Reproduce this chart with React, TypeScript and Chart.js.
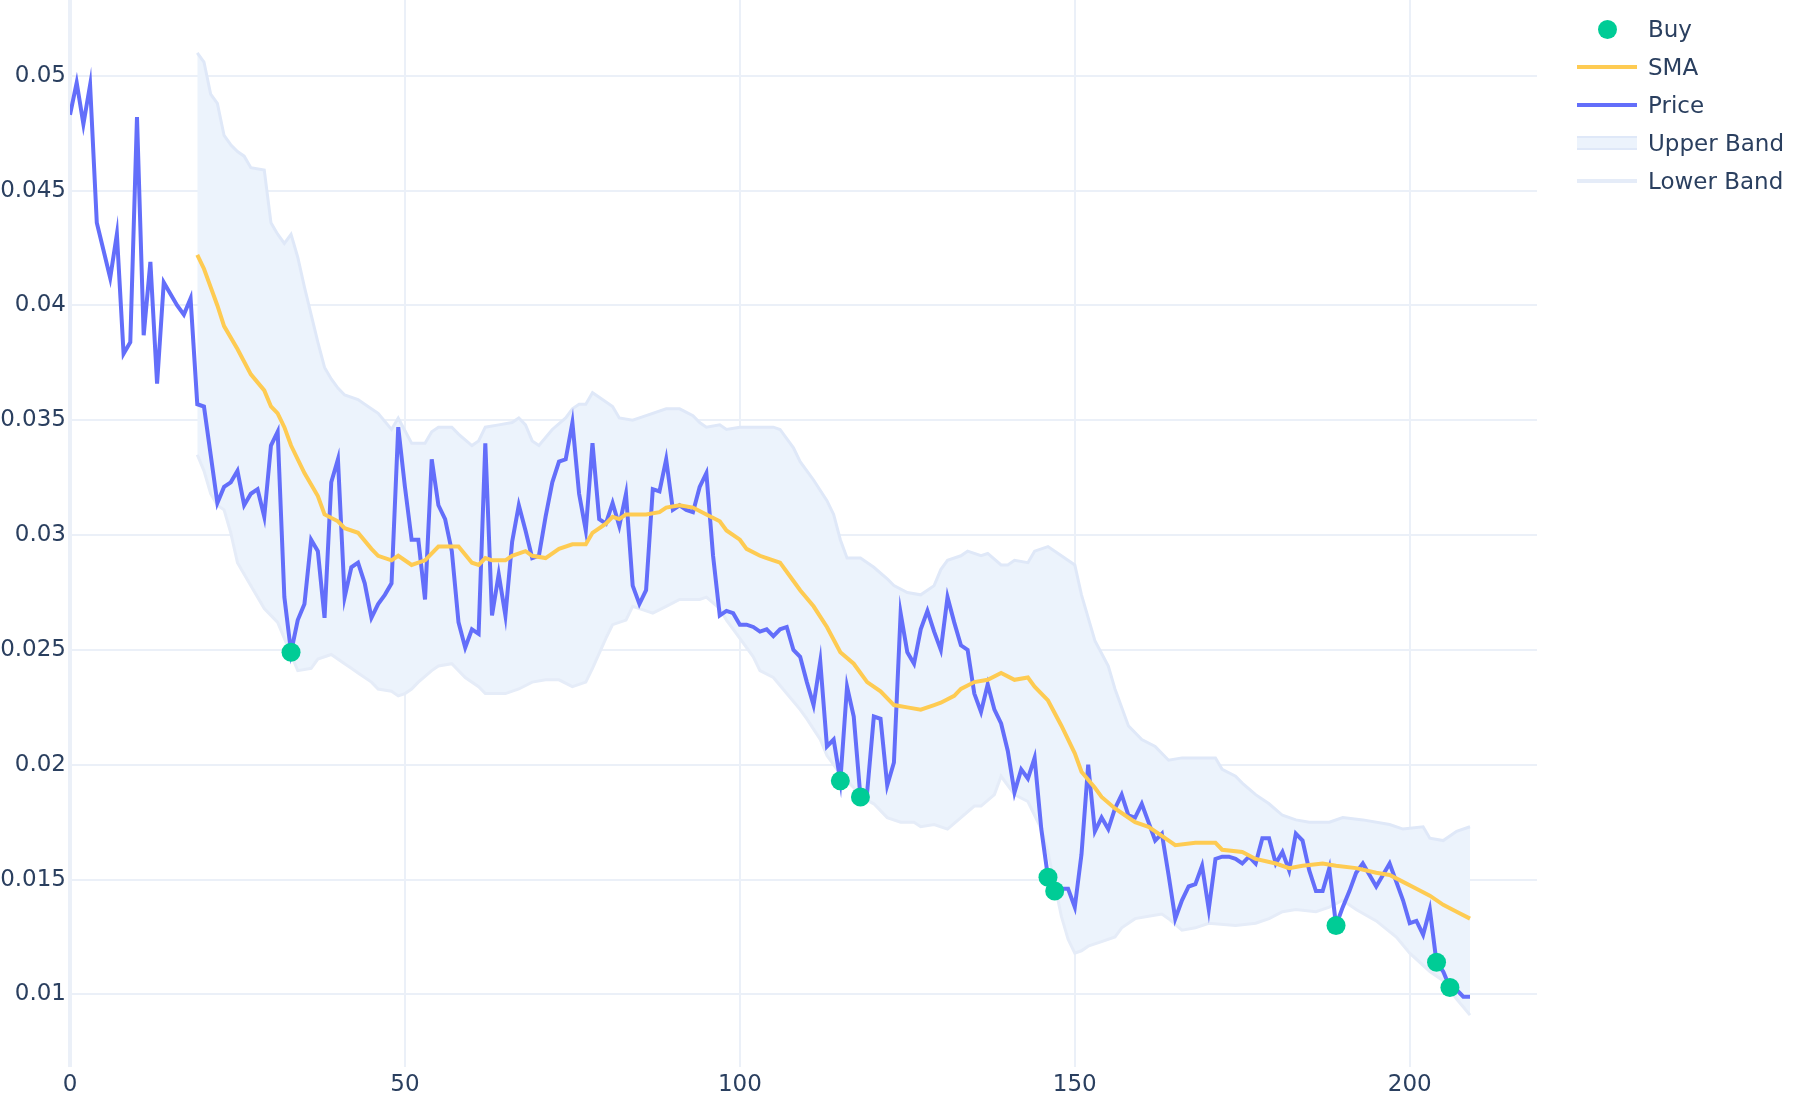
import React, { useEffect, useRef } from "react";
import { Chart, registerables } from "chart.js";

Chart.register(...registerables);

// Price, one value per index 0..209
const price = [
  0.0483, 0.0497, 0.0479, 0.0496, 0.0436, 0.0424, 0.0412, 0.0431, 0.0379, 0.0384,
  0.0482, 0.0387, 0.0419, 0.0366, 0.0410, 0.0405, 0.0400, 0.0396, 0.0403, 0.0357,
  0.0356, 0.0335, 0.0314, 0.0321, 0.0323, 0.0328, 0.0313, 0.0318, 0.0320, 0.0308,
  0.0339, 0.0345, 0.0273, 0.0249, 0.0263, 0.0270, 0.0298, 0.0293, 0.0264, 0.0323,
  0.0333, 0.0273, 0.0286, 0.0288, 0.0279, 0.0264, 0.0270, 0.0274, 0.0279, 0.0347,
  0.0321, 0.0298, 0.0298, 0.0272, 0.0333, 0.0313, 0.0307, 0.0293, 0.0262, 0.0251,
  0.0259, 0.0257, 0.0340, 0.0265, 0.0283, 0.0265, 0.0297, 0.0313, 0.0302, 0.0290,
  0.0291, 0.0308, 0.0323, 0.0332, 0.0333, 0.0349, 0.0318, 0.0302, 0.0340, 0.0307,
  0.0305, 0.0314, 0.0304, 0.0318, 0.0278, 0.0270, 0.0276, 0.0320, 0.0319, 0.0333,
  0.0311, 0.0313, 0.0311, 0.0310, 0.0321, 0.0327, 0.0291, 0.0265, 0.0267, 0.0266,
  0.0261, 0.0261, 0.0260, 0.0258, 0.0259, 0.0256, 0.0259, 0.0260, 0.0250, 0.0247,
  0.0236, 0.0226, 0.0245, 0.0208, 0.0211, 0.0193, 0.0234, 0.0221, 0.0186, 0.0188,
  0.0221, 0.0220, 0.0191, 0.0201, 0.0266, 0.0249, 0.0244, 0.0259, 0.0267, 0.0258,
  0.0250, 0.0273, 0.0262, 0.0252, 0.0250, 0.0231, 0.0223, 0.0235, 0.0224, 0.0218,
  0.0206, 0.0188, 0.0198, 0.0194, 0.0203, 0.0172, 0.0151, 0.0145, 0.0146, 0.0146,
  0.0138, 0.0161, 0.0200, 0.0171, 0.0177, 0.0172, 0.0181, 0.0187, 0.0178, 0.0177,
  0.0183, 0.0175, 0.0167, 0.0170, 0.0152, 0.0133, 0.0141, 0.0147, 0.0148, 0.0156,
  0.0137, 0.0159, 0.0160, 0.0160, 0.0159, 0.0157, 0.0160, 0.0157, 0.0168, 0.0168,
  0.0157, 0.0162, 0.0154, 0.0170, 0.0167, 0.0154, 0.0145, 0.0145, 0.0155, 0.0130,
  0.0138, 0.0145, 0.0153, 0.0157, 0.0152, 0.0147, 0.0152, 0.0157, 0.0149, 0.0141,
  0.0131, 0.0132, 0.0126, 0.0137, 0.0114, 0.0110, 0.0103, 0.0102, 0.0099, 0.0099,
];

// SMA vertices
const smaX = [
  19, 20, 21, 22, 23, 25, 27, 29, 30, 31, 32, 33, 35, 37, 38, 40, 41, 43, 45, 46,
  48, 49, 51, 53, 55, 58, 60, 61, 62, 63, 65, 66, 68, 69, 71, 73, 75, 77, 78, 80,
  81, 82, 83, 85, 86, 88, 89, 91, 93, 95, 97, 98, 100, 101, 103, 104, 106, 108, 109, 111,
  113, 115, 117, 119, 121, 123, 125, 127, 129, 130, 132, 133, 135, 137, 139, 141, 143, 144, 146, 148,
  150, 151, 153, 154, 156, 157, 159, 161, 163, 165, 168, 171, 172, 175, 177, 180, 182, 184, 187, 189,
  192, 195, 197, 199, 201, 203, 205, 207, 209,
];
const smaY = [
  0.0422, 0.0416, 0.0408, 0.0400, 0.0391, 0.0381, 0.0370, 0.0363, 0.0356, 0.0353,
  0.0347, 0.0339, 0.0327, 0.0317, 0.0309, 0.0306, 0.0303, 0.0301, 0.0294, 0.0291,
  0.0289, 0.0291, 0.0287, 0.0289, 0.0295, 0.0295, 0.0288, 0.0287, 0.0290, 0.0289,
  0.0289, 0.0291, 0.0293, 0.0291, 0.0290, 0.0294, 0.0296, 0.0296, 0.0301, 0.0305,
  0.0308, 0.0307, 0.0309, 0.0309, 0.0309, 0.0310, 0.0312, 0.0313, 0.0312, 0.0309,
  0.0306, 0.0302, 0.0298, 0.0294, 0.0291, 0.0290, 0.0288, 0.0280, 0.0276, 0.0269,
  0.0260, 0.0249, 0.0244, 0.0236, 0.0232, 0.0226, 0.0225, 0.0224, 0.0226, 0.0227,
  0.0230, 0.0233, 0.0236, 0.0237, 0.0240, 0.0237, 0.0238, 0.0234, 0.0228, 0.0217,
  0.0205, 0.0197, 0.0190, 0.0186, 0.0181, 0.0179, 0.0175, 0.0173, 0.0169, 0.0165,
  0.0166, 0.0166, 0.0163, 0.0162, 0.0159, 0.0157, 0.0155, 0.0156, 0.0157, 0.0156,
  0.0155, 0.0153, 0.0152, 0.0149, 0.0146, 0.0143, 0.0139, 0.0136, 0.0133,
];

// Upper band vertices
const upperX = [
  19, 20, 21, 22, 23, 24, 25, 26, 27, 29, 30, 31, 32, 33, 34, 35, 36, 37, 38, 39,
  40, 41, 43, 44, 46, 48, 49, 51, 53, 54, 55, 57, 58, 60, 61, 62, 64, 66, 67, 68,
  69, 70, 72, 74, 75, 76, 77, 78, 79, 81, 82, 84, 86, 89, 91, 93, 94, 95, 97, 98,
  100, 102, 105, 106, 108, 109, 111, 113, 114, 115, 116, 118, 120, 122, 123, 125, 127, 129, 130, 131,
  133, 134, 136, 137, 139, 140, 141, 143, 144, 146, 148, 150, 151, 153, 155, 156, 158, 160, 162, 164,
  166, 171, 172, 174, 175, 177, 179, 181, 183, 185, 188, 190, 193, 197, 199, 202, 203, 205, 207, 209,
];
const upperY = [
  0.0510, 0.0506, 0.0492, 0.0488, 0.0474, 0.0470, 0.0467, 0.0465, 0.0460, 0.0459,
  0.0436, 0.0431, 0.0427, 0.0431, 0.0421, 0.0408, 0.0396, 0.0384, 0.0373, 0.0368,
  0.0364, 0.0361, 0.0359, 0.0357, 0.0353, 0.0346, 0.0351, 0.0340, 0.0340, 0.0345,
  0.0347, 0.0347, 0.0344, 0.0339, 0.0341, 0.0347, 0.0348, 0.0349, 0.0351, 0.0348,
  0.0341, 0.0339, 0.0346, 0.0351, 0.0355, 0.0357, 0.0357, 0.0362, 0.0360, 0.0356,
  0.0351, 0.0350, 0.0352, 0.0355, 0.0355, 0.0352, 0.0349, 0.0347, 0.0348, 0.0346,
  0.0347, 0.0347, 0.0347, 0.0346, 0.0338, 0.0332, 0.0324, 0.0315, 0.0309, 0.0298,
  0.0290, 0.0290, 0.0286, 0.0281, 0.0278, 0.0275, 0.0274, 0.0278, 0.0285, 0.0289,
  0.0291, 0.0293, 0.0291, 0.0292, 0.0287, 0.0287, 0.0289, 0.0288, 0.0293, 0.0295,
  0.0291, 0.0287, 0.0274, 0.0254, 0.0243, 0.0233, 0.0217, 0.0211, 0.0208, 0.0202,
  0.0203, 0.0203, 0.0198, 0.0195, 0.0192, 0.0187, 0.0183, 0.0178, 0.0176, 0.0175,
  0.0175, 0.0177, 0.0176, 0.0174, 0.0172, 0.0173, 0.0168, 0.0167, 0.0171, 0.0173,
];

// Lower band vertices
const lowerX = [
  19, 20, 21, 22, 23, 24, 25, 27, 29, 31, 32, 33, 34, 36, 37, 39, 41, 42, 43, 45,
  46, 48, 49, 50, 51, 52, 54, 55, 57, 59, 61, 62, 65, 67, 69, 71, 73, 75, 77, 78,
  80, 81, 83, 84, 86, 87, 89, 91, 94, 95, 97, 98, 100, 102, 103, 105, 107, 109, 110, 112,
  113, 115, 117, 118, 120, 122, 124, 126, 127, 129, 131, 133, 135, 136, 138, 139, 141, 143, 145, 146,
  147, 148, 149, 150, 151, 152, 154, 156, 157, 159, 161, 163, 164, 166, 168, 170, 174, 177, 179, 181,
  183, 186, 188, 190, 192, 195, 198, 200, 203, 205, 207, 209,
];
const lowerY = [
  0.0335, 0.0328, 0.0318, 0.0313, 0.0311, 0.0301, 0.0288, 0.0278, 0.0268, 0.0262,
  0.0255, 0.0248, 0.0241, 0.0242, 0.0246, 0.0248, 0.0244, 0.0242, 0.0240, 0.0236,
  0.0233, 0.0232, 0.0230, 0.0231, 0.0233, 0.0236, 0.0241, 0.0243, 0.0244, 0.0238,
  0.0234, 0.0231, 0.0231, 0.0233, 0.0236, 0.0237, 0.0237, 0.0234, 0.0236, 0.0242,
  0.0255, 0.0261, 0.0263, 0.0269, 0.0267, 0.0266, 0.0269, 0.0272, 0.0272, 0.0273,
  0.0268, 0.0263, 0.0255, 0.0247, 0.0241, 0.0238, 0.0231, 0.0224, 0.0220, 0.0211,
  0.0204, 0.0196, 0.0190, 0.0186, 0.0183, 0.0177, 0.0175, 0.0175, 0.0173, 0.0174,
  0.0172, 0.0177, 0.0182, 0.0182, 0.0187, 0.0195, 0.0187, 0.0184, 0.0172, 0.0162,
  0.0148, 0.0134, 0.0124, 0.0118, 0.0119, 0.0121, 0.0123, 0.0125, 0.0129, 0.0133,
  0.0134, 0.0135, 0.0133, 0.0128, 0.0129, 0.0131, 0.0130, 0.0131, 0.0133, 0.0136,
  0.0137, 0.0136, 0.0138, 0.0141, 0.0137, 0.0132, 0.0125, 0.0118, 0.0110, 0.0106,
  0.0098, 0.0091,
];

// Buy signals
const buyX = [33, 115, 118, 146, 147, 189, 204, 206];
const buyY = [0.0249, 0.0193, 0.0186, 0.0151, 0.0145, 0.0130, 0.0114, 0.0103];

const xTicks = [0, 50, 100, 150, 200];
const yTicks = [0.01, 0.015, 0.02, 0.025, 0.03, 0.035, 0.04, 0.045, 0.05];

const legendItems = ["Buy", "SMA", "Price", "Upper Band", "Lower Band"];

const COLORS = {
  buy: "#00CC96",
  sma: "#FECB52",
  price: "#636EFA",
  bandLine: "rgb(223,232,248)",
  lowerLine: "rgb(229,236,248)",
  bandFill: "rgb(236,243,252)",
  grid: "#EBF0F8",
  text: "#2a3f5f",
};
const FONT = "'DejaVu Sans', Verdana, sans-serif";

const pairs = (xs: number[], ys: number[]) => xs.map((x, i) => ({ x, y: ys[i] }));

function LegendIcon({ kind }: { kind: number }) {
  const box: React.CSSProperties = { position: "relative", width: 60, height: 30, flex: "0 0 60px" };
  if (kind === 0) {
    return (
      <div style={box}>
        <div style={{ position: "absolute", left: 20.5, top: 5.5, width: 19, height: 19, borderRadius: "50%", background: COLORS.buy }} />
      </div>
    );
  }
  if (kind === 1 || kind === 2) {
    return (
      <div style={box}>
        <div style={{ position: "absolute", left: 0, top: 13, width: 60, height: 4, background: kind === 1 ? COLORS.sma : COLORS.price }} />
      </div>
    );
  }
  if (kind === 3) {
    return (
      <div style={box}>
        <div style={{ position: "absolute", left: 0, top: 8, width: 60, height: 14, background: COLORS.bandFill, boxSizing: "border-box", borderTop: `2px solid ${COLORS.bandLine}`, borderBottom: `2px solid ${COLORS.bandLine}` }} />
      </div>
    );
  }
  return (
    <div style={box}>
      <div style={{ position: "absolute", left: 0, top: 13, width: 60, height: 4, background: COLORS.lowerLine }} />
    </div>
  );
}

export default function App() {
  const ref = useRef<HTMLCanvasElement | null>(null);

  useEffect(() => {
    document.body.style.margin = "0";
    const canvas = ref.current;
    if (!canvas) return;
    const tickFont = { family: FONT, size: 23 };
    const chart = new Chart(canvas, {
      type: "line",
      data: {
        datasets: [
          {
            label: "Buy",
            data: pairs(buyX, buyY),
            showLine: false,
            pointRadius: 9.5,
            pointHoverRadius: 9.5,
            pointBackgroundColor: COLORS.buy,
            pointBorderWidth: 0,
            borderColor: COLORS.buy,
            backgroundColor: COLORS.buy,
            order: 0,
          },
          {
            label: "SMA",
            data: pairs(smaX, smaY),
            borderColor: COLORS.sma,
            borderWidth: 4,
            pointRadius: 0,
            tension: 0,
            fill: false,
            order: 1,
          },
          {
            label: "Price",
            data: price.map((y, i) => ({ x: i, y })),
            borderColor: COLORS.price,
            borderWidth: 4,
            pointRadius: 0,
            tension: 0,
            fill: false,
            order: 2,
          },
          {
            label: "Upper Band",
            data: pairs(upperX, upperY),
            borderColor: COLORS.bandLine,
            borderWidth: 3,
            pointRadius: 0,
            tension: 0,
            fill: false,
            order: 3,
          },
          {
            label: "Lower Band",
            data: pairs(lowerX, lowerY),
            borderColor: COLORS.lowerLine,
            borderWidth: 3,
            pointRadius: 0,
            tension: 0,
            fill: 3,
            backgroundColor: COLORS.bandFill,
            order: 4,
          },
        ],
      },
      options: {
        responsive: false,
        animation: false,
        events: [],
        layout: { autoPadding: false, padding: { left: 0, right: 263, top: 0, bottom: 0 } },
        plugins: {
          legend: { display: false },
          tooltip: { enabled: false },
          title: { display: false },
        },
        scales: {
          x: {
            type: "linear",
            min: 0,
            max: 219,
            afterBuildTicks: (s: any) => {
              s.ticks = xTicks.map((v) => ({ value: v }));
            },
            afterFit: (s: any) => {
              s.height = 33;
              s.paddingLeft = 0;
              s.paddingRight = 0;
            },
            border: { display: false },
            grid: {
              color: COLORS.grid,
              lineWidth: (c: any) => (c.tick && c.tick.value === 0 ? 4 : 2),
              drawTicks: false,
            },
            ticks: {
              font: tickFont,
              color: COLORS.text,
              padding: 4,
              maxRotation: 0,
              autoSkip: false,
              callback: (v: any) => String(v),
            },
          },
          y: {
            type: "linear",
            min: 0.00684,
            max: 0.0533,
            afterBuildTicks: (s: any) => {
              s.ticks = yTicks.map((v) => ({ value: v }));
            },
            afterFit: (s: any) => {
              s.width = 70;
              s.paddingTop = 0;
              s.paddingBottom = 0;
            },
            border: { display: false },
            grid: { color: COLORS.grid, lineWidth: 2, drawTicks: false },
            ticks: {
              font: tickFont,
              color: COLORS.text,
              padding: 4,
              autoSkip: false,
              callback: (v: any) => String(Number(Number(v).toFixed(3))),
            },
          },
        },
      },
    });
    return () => chart.destroy();
  }, []);

  return (
    <div style={{ position: "absolute", left: 0, top: 0, width: 1800, height: 1100, background: "#fff", overflow: "hidden" }}>
      <canvas ref={ref} width={1800} height={1100} style={{ position: "absolute", left: 0, top: 0, width: 1800, height: 1100 }} />
      {legendItems.map((name, i) => (
        <div
          key={name}
          style={{
            position: "absolute",
            left: 1577,
            top: 29 + i * 38 - 15,
            height: 30,
            display: "flex",
            alignItems: "center",
            fontFamily: FONT,
            fontSize: 23,
            color: COLORS.text,
            whiteSpace: "nowrap",
          }}
        >
          <LegendIcon kind={i} />
          <span style={{ marginLeft: 11, lineHeight: "30px" }}>{name}</span>
        </div>
      ))}
    </div>
  );
}
